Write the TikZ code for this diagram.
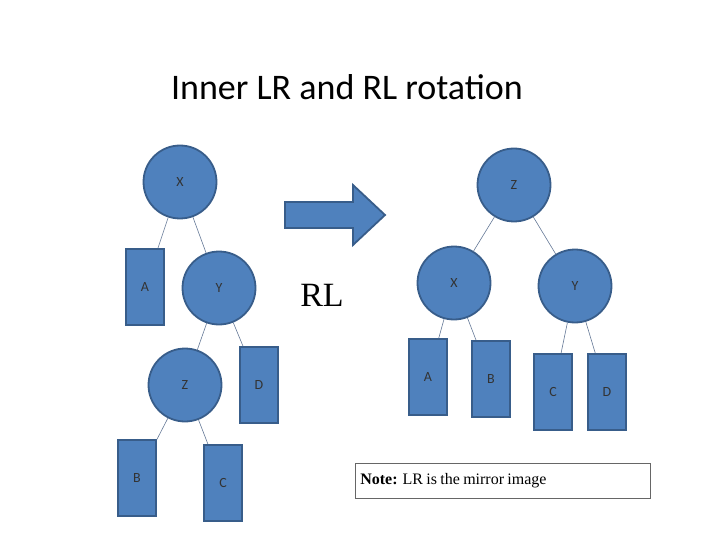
\documentclass[tikz,border=0pt]{standalone}
\usepackage{fontspec}
\setmainfont{Carlito}
\newfontfamily\serif{Liberation Serif}
\definecolor{fillb}{RGB}{79,129,189}
\definecolor{edgeb}{RGB}{56,93,138}
\definecolor{linec}{RGB}{100,120,150}
\begin{document}
\begin{tikzpicture}[x=1pt,y=-1pt,
  nd/.style={circle,fill=fillb,draw=edgeb,line width=1.8pt,minimum size=73pt,inner sep=0pt,font=\fontsize{14}{14}\selectfont,text=black!80},
  bx/.style={rectangle,fill=fillb,draw=edgeb,line width=1.8pt,minimum width=38pt,minimum height=76pt,inner sep=0pt,font=\fontsize{14}{14}\selectfont,text=black!80},
  ed/.style={draw=linec,line width=0.6pt}]
\useasboundingbox (0,0) rectangle (720,540);
\node (title) at (347,87) {\fontsize{36}{36}\selectfont Inner LR and RL rotation};
% left tree
\node[nd] (lx) at (180,182) {X};
\node[bx] (la) at (145,287) {A};
\node[nd] (ly) at (219,288) {Y};
\node[nd] (lz) at (185,385) {Z};
\node[bx] (ld) at (259,385) {D};
\node[bx] (lb) at (137,478) {B};
\node[bx] (lc) at (223,483) {C};
\draw[ed] (lx) -- (la);
\draw[ed] (lx) -- (ly);
\draw[ed] (ly) -- (lz);
\draw[ed] (ly) -- (ld);
\draw[ed] (lz) -- (lb);
\draw[ed] (lz) -- (lc);
% arrow
\fill[fillb,draw=edgeb,line width=1.8pt]
  (285,202) -- (353,202) -- (353,185) -- (385,215) -- (353,245) -- (353,228) -- (285,228) -- cycle;
\node (rl) at (322,295) {\serif\fontsize{34}{34}\selectfont RL};
% right tree
\node[nd] (rz) at (514,185) {Z};
\node[nd] (rx) at (454,283) {X};
\node[nd] (ry) at (575,286) {Y};
\node[bx] (ra) at (428,377) {A};
\node[bx] (rb) at (491,379) {B};
\node[bx] (rc) at (553,392) {C};
\node[bx] (rd) at (607,392) {D};
\draw[ed] (rz) -- (rx);
\draw[ed] (rz) -- (ry);
\draw[ed] (rx) -- (ra);
\draw[ed] (rx) -- (rb);
\draw[ed] (ry) -- (rc);
\draw[ed] (ry) -- (rd);
\node[draw=black!60,line width=0.6pt,minimum width=295pt,minimum height=35pt,inner sep=0pt,anchor=north west,text width=285pt,align=left] (note) at (355,463) {\serif\fontsize{16}{16}\selectfont\textbf{Note:} LR is the mirror image};
\end{tikzpicture}
\end{document}
